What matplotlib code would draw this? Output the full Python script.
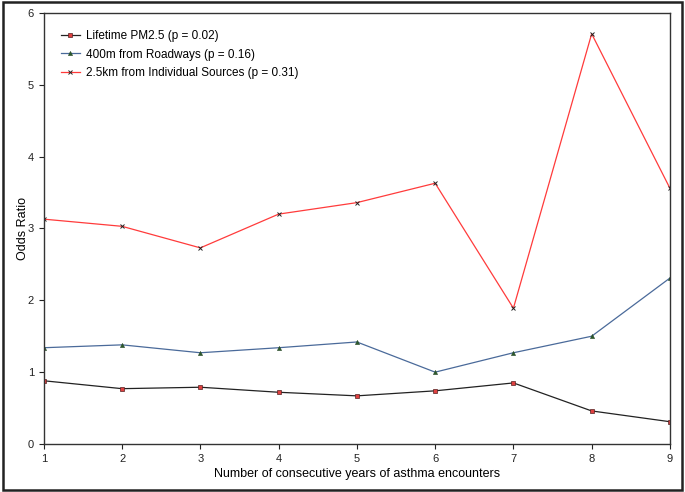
import matplotlib
matplotlib.use("Agg")
import matplotlib.pyplot as plt
from matplotlib.patches import Rectangle

years = [1, 2, 3, 4, 5, 6, 7, 8, 9]
pm25 = [0.88, 0.77, 0.79, 0.72, 0.67, 0.74, 0.85, 0.46, 0.31]
roadways = [1.34, 1.38, 1.27, 1.34, 1.42, 1.00, 1.27, 1.50, 2.31]
sources = [3.13, 3.03, 2.73, 3.20, 3.36, 3.63, 1.89, 5.71, 3.56]
labels = ["Lifetime PM2.5 (p = 0.02)", "400m from Roadways (p = 0.16)",
          "2.5km from Individual Sources (p = 0.31)"]

plt.rcParams['font.family'] = ['Liberation Sans', 'DejaVu Sans']
fig = plt.figure(figsize=(6.85, 4.92), dpi=100)
ax = fig.add_axes([0.064, 0.0976, 0.914, 0.876])

ax.plot(years, pm25, color='#222222', lw=0.9, marker='s', ms=3,
        mfc='#e04040', mec='#552222', mew=0.5, label=labels[0])
ax.plot(years, roadways, color='#4a6a9a', lw=0.9, marker='^', ms=3,
        mfc='#2a5a2a', mec='#2a4a2a', mew=0.4, label=labels[1])
ax.plot(years, sources, color='#ff3b3b', lw=0.9, marker='x', ms=3,
        mec='#222222', mew=0.7, label=labels[2])

ax.set_xlim(1, 9)
ax.set_ylim(0, 6)
ax.set_xticks(years)
ax.set_yticks(range(0, 7))
ax.tick_params(direction='out', length=3.5, width=0.8, labelsize=8, colors='#222222')
for s in ax.spines.values():
    s.set_linewidth(1.0)
    s.set_color('#333333')
ax.set_xlabel("Number of consecutive years of asthma encounters", fontsize=9, labelpad=3)
ax.set_ylabel("Odds Ratio", fontsize=9, labelpad=-0.5)

ax.legend(loc='upper left', frameon=False, fontsize=8.5, handlelength=1.6,
          handletextpad=0.5, bbox_to_anchor=(0.01, 0.985), labelspacing=0.55)

fig.patches.append(Rectangle((0.004, 0.005), 0.992, 0.99, transform=fig.transFigure,
                             fill=False, edgecolor='#222222', lw=1.8))
fig.savefig("out.png", dpi=100)
